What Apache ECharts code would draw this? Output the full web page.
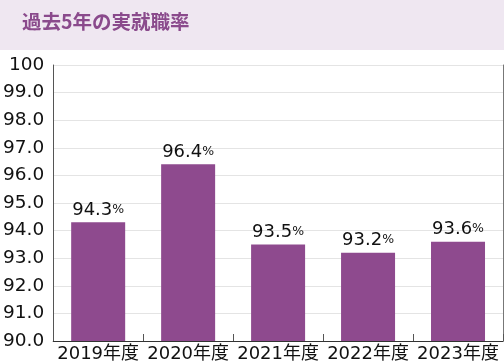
<!DOCTYPE html>
<html><head><meta charset="utf-8">
<script src="https://cdn.jsdelivr.net/npm/echarts@6/dist/echarts.min.js"></script>
<style>html,body{margin:0;padding:0;background:#fff}#c{width:504px;height:364px}</style>
</head><body><div id="c"></div>
<script>
const title = '過去5年の実就職率';
const categories = ['2019年度','2020年度','2021年度','2022年度','2023年度'];
const values = [94.3, 96.4, 93.5, 93.2, 93.6];
const yTicks = ['90.0','91.0','92.0','93.0','94.0','95.0','96.0','97.0','98.0','99.0','100'];

const font = '"DejaVu Sans", "Noto Sans CJK JP", sans-serif';
const tfont = '"Noto Sans CJK JP", sans-serif';
const chart = echarts.init(document.getElementById('c'), null, {renderer:'canvas'});
chart.setOption({
  animation:false,
  graphic:[
    {type:'rect', shape:{x:0,y:0,width:504,height:50}, style:{fill:'#efe7f1'}, z:-1},
    {type:'text', left:22, top:12, style:{text:title, fill:'#8a4a8c', font:'bold 19.5px ' + tfont}}
  ],
  grid:{left:52, right:1, top:65, bottom:23, containLabel:false},
  xAxis:{type:'category', data:categories,
    axisLine:{lineStyle:{color:'#333', width:1}},
    axisTick:{show:true, inside:true, length:7, lineStyle:{color:'#555'}},
    axisLabel:{color:'#111', fontSize:18, fontFamily:font, margin:4, interval:0}
  },
  yAxis:[{type:'value', min:90, max:100, interval:1,
    axisLine:{show:true, lineStyle:{color:'#555'}},
    axisTick:{show:false},
    splitLine:{lineStyle:{color:'#e4e4e4'}},
    axisLabel:{color:'#111', fontSize:18.5, fontFamily:font, margin:9,
      formatter:function(v){return yTicks[Math.round(v-90)];}}
  },{type:'value', min:90, max:100, position:'right',
    axisLine:{show:true, lineStyle:{color:'#777'}}, axisTick:{show:false},
    axisLabel:{show:false}, splitLine:{show:false}}],
  series:[{type:'bar', data:values, barWidth:54, itemStyle:{color:'#8e4a8e'},
    label:{show:true, position:'top', distance:3,
      formatter:function(p){return '{n|'+p.value.toFixed(1)+'}{p|%}';},
      rich:{n:{fontSize:18, color:'#111', fontFamily:font}, p:{fontSize:12.5, color:'#111', fontFamily:font, padding:[0,0,2,0]}}
    }
  }]
});
</script></body></html>
